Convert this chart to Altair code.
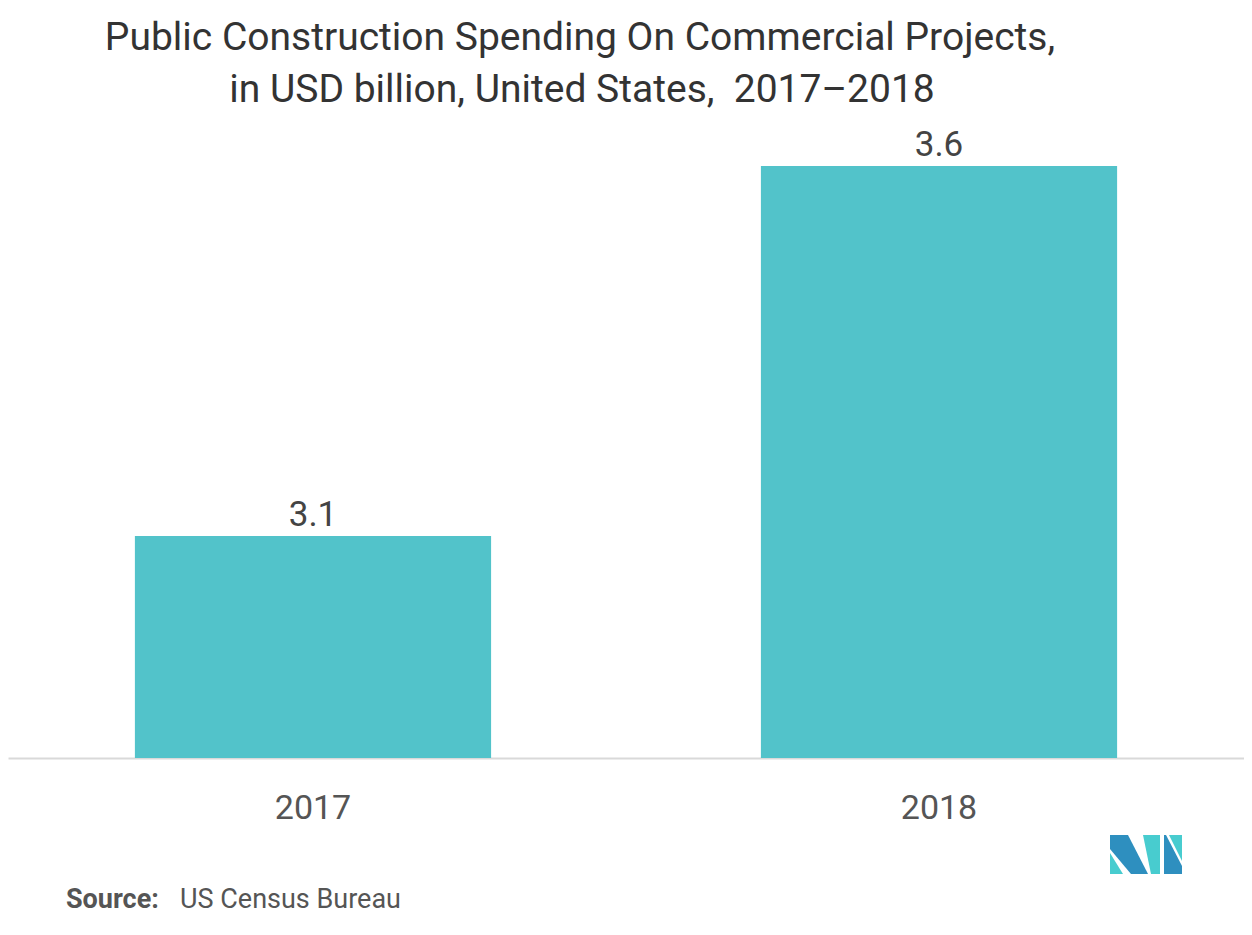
import altair as alt
import pandas as pd

# ---- data ----
years = ["2017", "2018"]
values = [3.1, 3.6]
title_lines = ["Public Construction Spending On Commercial Projects,",
               "in USD billion, United States,\u00a0 2017\u20132018"]
source_label = "Source:"
source_text = "US Census Bureau"

df = pd.DataFrame({"year": years, "value": values})

BAR = "#52C3CA"
FONT = "Roboto"

x_enc = alt.X("year:N", sort=years,
              scale=alt.Scale(paddingInner=0.431, paddingOuter=0.2027),
              axis=alt.Axis(title=None, labelAngle=0, ticks=False,
                            domainColor="#d9d9d9", domainWidth=2,
                            labelFontSize=34, labelColor="#555555",
                            labelFont=FONT, labelPadding=33))
y_scale = alt.Scale(domain=[2.8, 3.65], zero=False, nice=False)

bars = alt.Chart(df).mark_bar(color=BAR).encode(
    x=x_enc,
    y=alt.Y("value:Q", scale=y_scale, axis=None),
    y2=alt.datum(2.8),
)

labels = alt.Chart(df).mark_text(fontSize=35, font=FONT, color="#444444",
                                 baseline="alphabetic", dy=-10).encode(
    x=alt.X("year:N", sort=years),
    y=alt.Y("value:Q", scale=y_scale),
    text=alt.Text("value:Q", format=".1f"),
)

t1 = alt.Chart(pd.DataFrame({"t": [title_lines[0]]})).mark_text(
    fontSize=39, font=FONT, color="#333333", align="center", baseline="alphabetic"
).encode(x=alt.value(572), y=alt.value(-79), text="t:N")
t2 = alt.Chart(pd.DataFrame({"t": [title_lines[1]]})).mark_text(
    fontSize=39, font=FONT, color="#333333", align="center", baseline="alphabetic"
).encode(x=alt.value(574), y=alt.value(-27), text="t:N")

s1 = alt.Chart(pd.DataFrame({"t": [source_label]})).mark_text(
    fontSize=27, font=FONT, fontWeight="bold", color="#555555",
    align="left", baseline="alphabetic"
).encode(x=alt.value(58), y=alt.value(779), text="t:N")
s2 = alt.Chart(pd.DataFrame({"t": [source_text]})).mark_text(
    fontSize=27, font=FONT, color="#555555", align="left", baseline="alphabetic"
).encode(x=alt.value(172), y=alt.value(779), text="t:N")

# logo pieces (decorative)
logo = pd.DataFrame({
    "path": [
        "M-1,-0.542L-0.5,-0.542L0.056,0.542L-0.417,0.542L-1,-0.153Z",
        "M-1,-0.042L-0.639,0.542L-1,0.542Z",
        "M-0.083,-0.542L0.389,-0.542L0.389,0.542L0.139,0.542Z",
        "M0.5,-0.542L0.556,-0.542L1,0.319L1,0.542L0.5,0.542Z",
        "M0.639,-0.542L1,-0.542L1,0.181Z",
    ],
    "col": ["#2E8FBF", "#48CCCF", "#48CCCF", "#2E8FBF", "#48CCCF"],
})
logo_layer = alt.Chart(logo).mark_point(filled=True, opacity=1, size=5184,
                                        strokeWidth=0).encode(
    x=alt.value(1138), y=alt.value(725.5),
    shape=alt.Shape("path:N", scale=None, legend=None),
    color=alt.Color("col:N", scale=None, legend=None),
)

chart = alt.layer(bars, labels, t1, t2, s1, s2, logo_layer).properties(
    width=1236, height=629,
    padding={"left": 0, "top": 121, "right": 0, "bottom": 169},
    autosize=alt.AutoSizeParams(type="none"),
).configure_view(stroke=None)

chart.save("out.html", embed_options={"renderer": "svg", "actions": False})
